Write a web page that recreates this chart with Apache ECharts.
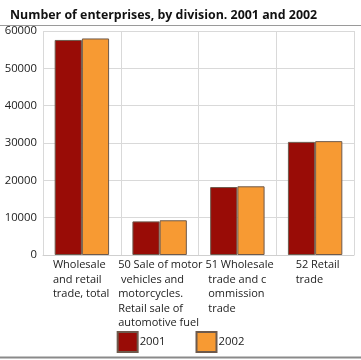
<!DOCTYPE html>
<html>
<head>
<meta charset="utf-8">
<script src="https://cdn.jsdelivr.net/npm/echarts@6/dist/echarts.min.js"></script>
<style>html,body{margin:0;padding:0;background:#fff}#c{width:361px;height:360px}</style>
</head>
<body>
<div id="c"></div>
<script>
const titleText = 'Number of enterprises, by division. 2001 and 2002';
const categories = [
  'Wholesale\nand retail\ntrade, total',
  '50 Sale of motor\n vehicles and\nmotorcycles.\nRetail sale of\nautomotive fuel',
  '51 Wholesale\n trade and c\n ommission\n trade',
  '52 Retail\ntrade'
];
const seriesNames = ['2001', '2002'];
const values2001 = [57600, 9000, 18200, 30300];
const values2002 = [58000, 9300, 18400, 30500];
const yTicks = [0, 10000, 20000, 30000, 40000, 50000, 60000];

const FONT = '"Open Sans", sans-serif';
const FS = 11;
const blockW = [58, 83, 64, 39];
const rich = {};
blockW.forEach((w, i) => { rich['c' + i] = { width: w, align: 'left', fontSize: FS, lineHeight: 14.5, fontFamily: FONT, color: '#222' }; });

const chart = echarts.init(document.getElementById('c'), null, { renderer: 'canvas' });
chart.setOption({
  animation: false,
  title: { text: titleText, left: 5, top: 4, textStyle: { fontFamily: FONT, fontSize: 12.4, fontWeight: 'bold', color: '#111' } },
  grid: { left: 43, right: 7, top: 31, bottom: 105, containLabel: false },
  legend: {
    bottom: 7, left: 'center', padding: 0, itemWidth: 20, itemHeight: 20, itemGap: 30,
    textStyle: { fontFamily: FONT, fontSize: 11.3, color: '#222', padding: [0, 0, 0, -3] },
    data: seriesNames.map(n => ({ name: n, icon: 'rect' }))
  },
  xAxis: {
    type: 'category', data: categories,
    axisLine: { lineStyle: { color: '#cfcfcf' } },
    axisTick: { show: false },
    splitLine: { show: true, lineStyle: { color: '#d9d9d9' } },
    axisLabel: {
      interval: 0, margin: 3,
      formatter: (v, i) => v.split('\n').map(l => '{c' + i + '|' + l + '}').join('\n'),
      rich: rich
    }
  },
  yAxis: {
    type: 'value', min: yTicks[0], max: yTicks[yTicks.length - 1], interval: 10000,
    axisLine: { show: false }, axisTick: { show: false },
    splitLine: { lineStyle: { color: '#d9d9d9' } },
    axisLabel: { fontFamily: FONT, fontSize: 11.3, color: '#222', margin: 6, formatter: v => String(v) }
  },
  series: [
    { name: seriesNames[0], type: 'bar', data: values2001, barGap: '0%', barCategoryGap: '30%',
      itemStyle: { color: '#990c06', borderColor: '#6e5a4c', borderWidth: 1 } },
    { name: seriesNames[1], type: 'bar', data: values2002, barGap: '0%', barCategoryGap: '30%',
      itemStyle: { color: '#f79a33', borderColor: '#6e5a4c', borderWidth: 1 } }
  ],
  graphic: [
    { type: 'line', shape: { x1: 0, y1: 25.5, x2: 361, y2: 25.5 }, style: { stroke: '#9a9a9a', lineWidth: 1 } },
    { type: 'line', shape: { x1: 0, y1: 357.5, x2: 361, y2: 357.5 }, style: { stroke: '#8a8a8a', lineWidth: 2 } }
  ]
});
</script>
</body>
</html>
